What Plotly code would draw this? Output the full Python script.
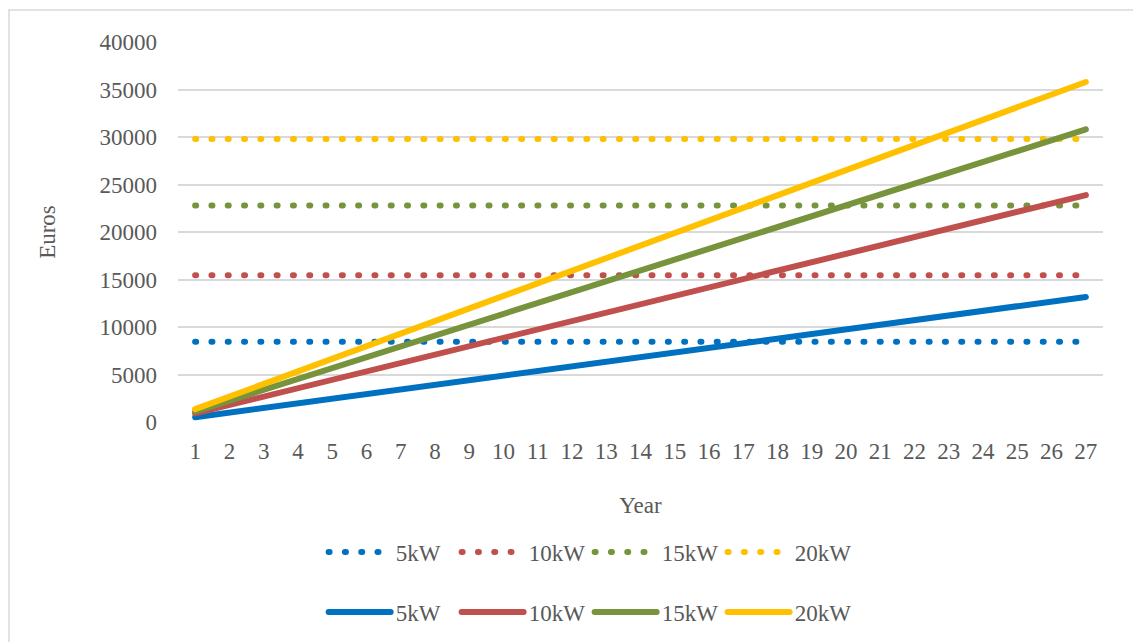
import plotly.graph_objects as go

years = list(range(1, 28))

# constant (dotted) series
dot_5kw = [8450] * 27
dot_10kw = [15450] * 27
dot_15kw = [22780] * 27
dot_20kw = [29800] * 27

# growing (solid) series
sol_5kw = [500, 990, 1480, 1960, 2450, 2940, 3420, 3910, 4400, 4880, 5370, 5860, 6340, 6830,
           7320, 7800, 8290, 8780, 9260, 9750, 10240, 10720, 11210, 11700, 12180, 12670, 13160]
sol_10kw = [900, 1780, 2670, 3550, 4440, 5320, 6200, 7090, 7970, 8860, 9740, 10620, 11510, 12390,
            13280, 14160, 15040, 15930, 16810, 17700, 18580, 19460, 20350, 21230, 22120, 23000, 23890]
sol_15kw = [1100, 2240, 3380, 4530, 5670, 6810, 7950, 9090, 10240, 11380, 12520, 13660, 14800, 15950,
            17090, 18230, 19370, 20510, 21660, 22800, 23940, 25080, 26220, 27370, 28510, 29650, 30800]
sol_20kw = [1350, 2670, 4000, 5320, 6650, 7970, 9300, 10620, 11950, 13270, 14600, 15920, 17250, 18570,
            19900, 21220, 22550, 23870, 25200, 26520, 27850, 29170, 30500, 31820, 33150, 34470, 35790]

names = ["5kW", "10kW", "15kW", "20kW"]
colors = ["#0070C0", "#C0504D", "#77933C", "#FFC000"]
dotted = [dot_5kw, dot_10kw, dot_15kw, dot_20kw]
solid = [sol_5kw, sol_10kw, sol_15kw, sol_20kw]

FONT = "Liberation Serif"
GREY = "#595959"
FS = 23

fig = go.Figure()
for n, c, v in zip(names, colors, dotted):
    fig.add_trace(go.Scatter(x=years, y=v, name=n, mode="lines",
                             line=dict(color=c, width=6, dash="1px,15.3px"),
                             legend="legend"))
for n, c, v in zip(names, colors, solid):
    fig.add_trace(go.Scatter(x=years, y=v, name=n, mode="lines",
                             line=dict(color=c, width=6),
                             legend="legend2"))

leg_common = dict(orientation="h", xanchor="center", x=0.445, yanchor="middle",
                  yref="container",
                  font=dict(family=FONT, size=FS, color=GREY),
                  bgcolor="rgba(0,0,0,0)", itemwidth=62, entrywidth=56,
                  traceorder="normal")

fig.update_layout(
    width=1133, height=642,
    margin=dict(l=178, r=30, t=42, b=220),
    paper_bgcolor="white", plot_bgcolor="white",
    font=dict(family=FONT, size=FS, color=GREY),
    xaxis=dict(tickmode="array", tickvals=years, ticktext=[str(y) for y in years],
               range=[0.5, 27.5], showgrid=False, zeroline=False, showline=False,
               ticks="", tickfont=dict(family=FONT, size=FS, color=GREY),
               ticklabelstandoff=13, automargin=False,
               title=dict(text="Year", font=dict(family=FONT, size=FS, color=GREY), standoff=33)),
    yaxis=dict(range=[0, 40000], dtick=5000, tickformat="d", showgrid=True,
               gridcolor="#D9D9D9", gridwidth=1.5,
               zeroline=False, showline=False, ticks="", automargin=False,
               tickfont=dict(family=FONT, size=FS, color=GREY), ticklabelstandoff=20,
               title=dict(text="Euros", font=dict(family=FONT, size=FS, color=GREY), standoff=37)),
    legend=dict(y=1 - 552 / 642, **leg_common),
    legend2=dict(y=1 - 612 / 642, **leg_common),
    shapes=[dict(type="rect", xref="paper", yref="paper",
                 x0=(9 - 178) / 925, x1=(1200 - 178) / 925,
                 y0=-(700 - 422) / 380, y1=(422 - 10) / 380,
                 line=dict(color="#D9D9D9", width=1.5), fillcolor="rgba(0,0,0,0)", layer="below")],
    showlegend=True,
)

post = """
var gd = document.getElementById('{plot_id}');
gd.querySelectorAll('path.js-line').forEach(function(p){ p.style.strokeLinecap = 'round'; });
"""
fig.write_html("out.html", post_script=post)
